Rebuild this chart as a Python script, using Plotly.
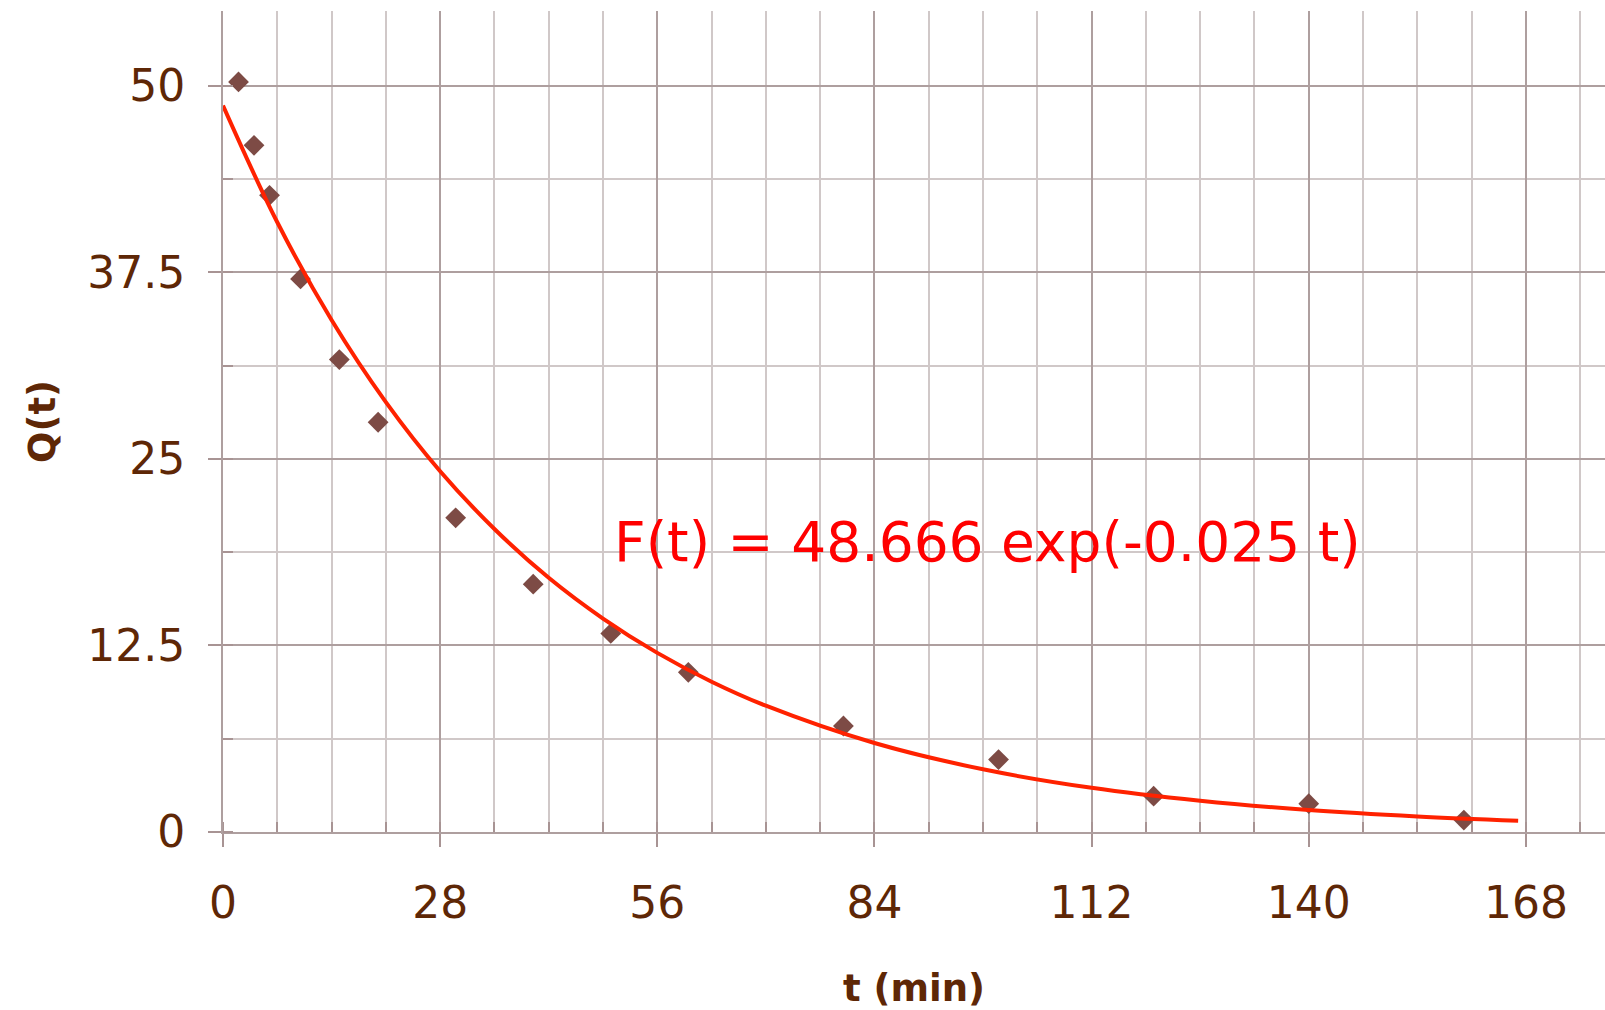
import plotly.graph_objects as go

# Measured data points (t in minutes, Q(t))
t_data = [2, 4, 6, 10, 15, 20, 30, 40, 50, 60, 80, 100, 120, 140, 160]
q_data = [50.25, 46.0, 42.65, 37.05, 31.65, 27.45, 21.05, 16.6, 13.3, 10.7, 7.1, 4.85, 2.4, 1.9, 0.8]

# Fitted curve
t_fit = [0, 7, 14, 21, 28, 35, 42, 49, 56, 63, 70, 84, 98, 112, 126, 140, 154, 167]
f_fit = [48.67, 40.85, 34.3, 28.8, 24.17, 20.3, 17.03, 14.3, 12.0, 10.07, 8.46, 5.96, 4.2, 2.96, 2.09, 1.47, 1.04, 0.75]

x_ticks = [0, 28, 56, 84, 112, 140, 168]
y_ticks = [0, 12.5, 25, 37.5, 50]
y_tick_text = ["0", "12.5", "25", "37.5", "50"]

fit_label = "F(t) = 48.666 exp(-0.025 t)"
fit_label_pos = (98.6, 19.4)

TXT = "#5e2706"
MAJ = "#ae9f9f"
MIN = "#d0c8c8"
TICK = "#a89494"

fig = go.Figure()
fig.add_trace(go.Scatter(
    x=t_data, y=q_data, mode="markers",
    marker=dict(symbol="diamond", size=16, color="#7d4b45"),
    showlegend=False, cliponaxis=False,
))
fig.add_trace(go.Scatter(
    x=t_fit, y=f_fit, mode="lines", line=dict(color="#ff2200", width=4, shape="spline"),
    showlegend=False,
))

fig.add_annotation(
    x=fit_label_pos[0], y=fit_label_pos[1], xref="x", yref="y", text=fit_label,
    showarrow=False, font=dict(family="DejaVu Sans", size=55, color="#ff0000"),
)

X_RANGE = [0, 178.2]
Y_RANGE = [0, 55]

fig.update_layout(
    width=1605, height=1010,
    margin=dict(l=223, r=0, t=11, b=178),
    paper_bgcolor="white", plot_bgcolor="white",
    xaxis=dict(
        range=X_RANGE, tickvals=x_ticks, ticktext=[str(v) for v in x_ticks],
        showgrid=True, gridcolor=MAJ, gridwidth=2,
        minor=dict(dtick=7, tick0=0, showgrid=True, gridcolor=MIN, gridwidth=2,
                   ticks="inside", ticklen=10, tickcolor=TICK, tickwidth=2),
        ticks="outside", ticklen=13, tickcolor=TICK, tickwidth=2,
        showline=True, linecolor=MAJ, linewidth=2, zeroline=False,
        tickfont=dict(family="DejaVu Sans", size=44, color=TXT),
        ticklabelstandoff=18,
        title=dict(text="<b>t (min)</b>", font=dict(family="DejaVu Sans", size=37, color=TXT), standoff=48),
        automargin=False, layer="below traces",
    ),
    yaxis=dict(
        range=Y_RANGE, tickvals=y_ticks, ticktext=y_tick_text,
        showgrid=True, gridcolor=MAJ, gridwidth=2,
        minor=dict(dtick=6.25, tick0=0, showgrid=True, gridcolor=MIN, gridwidth=2,
                   ticks="inside", ticklen=10, tickcolor=TICK, tickwidth=2),
        ticks="outside", ticklen=13, tickcolor=TICK, tickwidth=2,
        showline=True, linecolor=MAJ, linewidth=2, zeroline=False,
        tickfont=dict(family="DejaVu Sans", size=44, color=TXT),
        ticklabelstandoff=14,
        title=dict(text="<b>Q(t)</b>", font=dict(family="DejaVu Sans", size=37, color=TXT), standoff=20),
        automargin=False,
    ),
    xaxis2=dict(range=X_RANGE, overlaying="x", tickvals=x_ticks, showticklabels=False,
                ticks="inside", ticklen=10, tickcolor=TICK, tickwidth=2,
                showgrid=False, zeroline=False, showline=False, anchor="y"),
    yaxis2=dict(range=Y_RANGE, overlaying="y", tickvals=y_ticks, showticklabels=False,
                ticks="inside", ticklen=10, tickcolor=TICK, tickwidth=2,
                showgrid=False, zeroline=False, showline=False, anchor="x"),
)
# invisible trace to activate overlay axes
fig.add_trace(go.Scatter(x=[None], y=[None], xaxis="x2", yaxis="y2", showlegend=False, hoverinfo="skip"))

fig.write_html("out.html")
